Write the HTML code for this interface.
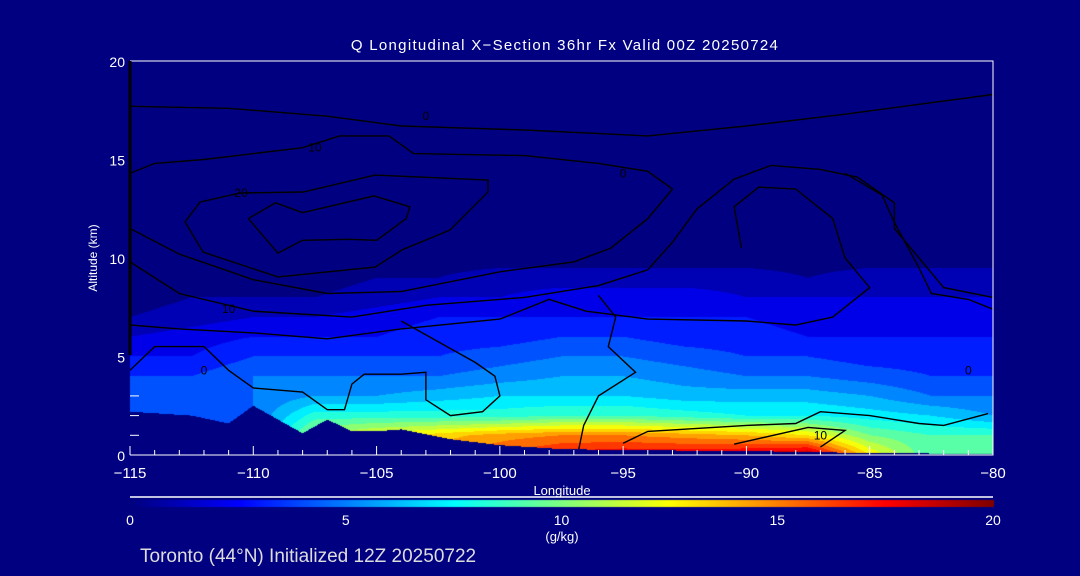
<!DOCTYPE html>
<html><head><meta charset="utf-8">
<style>
html,body{margin:0;padding:0;background:#000080;}
#wrap{position:relative;width:1080px;height:576px;background:#000080;overflow:hidden;font-family:"Liberation Sans",sans-serif;color:#fff;}
canvas{position:absolute;left:0;top:0;}
svg{position:absolute;left:0;top:0;}
</style></head>
<body>
<div id="wrap">
<canvas id="field" width="1080" height="576"></canvas>
<svg id="ov" width="1080" height="576"></svg>
</div>
<script>
// ---- data ----
const lons = [-115,-112.5,-110,-107.5,-105,-102.5,-100,-97.5,-95,-92.5,-90,-87.5,-85,-82.5,-80];
const alts = [0,1,2,3,4,5,6,7,8,9,10,11];
const q0  = [4.5,4.5,5,12.5,14,15,16,17.5,18,18,18.5,19.5,13,9,10];
const q1  = [4.5,4.5,5,11,12.5,13.5,14.5,15,15,14.5,14,13,10,9,9];
const q2  = [4.5,4.5,5,8.5,8.5,8.5,8.5,9,9,8.5,8,8,7.5,7,6];
const q3  = [4.5,4.5,5,6,6,6.5,7,7,7,6.5,6.5,6.5,6,5,5];
const q4  = [4,4,5,5,5,5,5.5,6,6,5.5,5,5,4.5,4,4];
const q5  = [3,3,4,4,4,4,4.5,5,5,4.5,4,4,3.5,3.5,3.5];
const q6  = [2,2.5,3,3,3,3.5,3.5,4,4,3.5,3.5,3,3,3,3];
const q7  = [1,1.5,2,2,2.5,3,3,3,3,3,3,2.5,2.5,2.5,2.5];
const q8  = [0.5,1,1,1,1.5,2,2,2.5,2.5,2.5,2,2,2,2,2];
const q9  = [0,0.5,0.5,0.5,1,1,1.5,1.5,1.5,1.5,1.5,1,1.5,1.5,1.5];
const q10 = [0,0,0,0,0,0.5,0.5,0.5,0.5,0.5,0.5,0.5,0.5,0.5,0.5];
const q11 = [0,0,0,0,0,0,0,0,0,0,0,0,0,0,0];
const terrainLon = [-115,-112.5,-111,-110,-108,-107,-106,-105,-104,-102,-100,-97.5,-95,-90,-85,-80];
const terrainAlt = [2.2,2.0,1.6,2.5,1.1,1.8,1.2,1.2,1.3,0.8,0.5,0.3,0.25,0.2,0.1,0.05];
const xTickLabels = [-115,-110,-105,-100,-95,-90,-85,-80];
const yTickLabels = [0,5,10,15,20];
const cbTickLabels = [0,5,10,15,20];
const contour1 = [[-110.2,12.0],[-109.1,12.8],[-108.0,12.3],[-105.1,13.15],[-103.65,12.6],[-103.8,12.0],[-105.0,10.9],[-106.1,10.95],[-108.0,10.9],[-109.0,10.25],[-110.2,12.0]];
const contour2 = [[-112.77,11.83],[-112.16,12.84],[-110.54,13.3],[-107.98,13.35],[-105.06,14.21],[-100.48,13.96],[-100.48,13.35],[-102.02,11.42],[-103.97,10.41],[-105.06,9.54],[-109.0,9.04],[-112.04,10.3],[-112.77,11.83]];
const contour3 = [[-115,14.3],[-114,14.8],[-112,15],[-108,15.6],[-106.5,16.2],[-104.5,16.2],[-103.5,15.3],[-99,15.2],[-96,14.8],[-94,14.4],[-93,13.5],[-94,12],[-95.5,10.5],[-97,9.8],[-100,9.3],[-104,8.3],[-107,8.2],[-110,8.9],[-113,10.2],[-115,11.5]];
const contour4 = [[-115,9.8],[-113,8.2],[-110,7.3],[-106,7.0],[-103,7.6],[-99,8.0],[-96,8.6],[-94,9.4],[-93,10.8],[-92,12.5],[-90.5,14],[-89,14.7],[-87,14.5],[-85.5,14.1],[-84,12.8],[-84,11.5],[-83,10],[-82,8.5],[-80,8.0]];
const contour5 = [[-115,17.7],[-111,17.6],[-107,17.2],[-104,16.7],[-99,16.5],[-94,16.2],[-90,16.7],[-86,17.3],[-83,17.8],[-80,18.3]];
const contour6 = [[-115,6.6],[-113,6.4],[-110,6.2],[-107,5.9],[-104,6.4],[-100,6.9],[-98,7.9],[-96.5,7.3],[-94,6.9],[-90,6.8],[-88,6.6],[-86.5,7.0],[-85,8.5],[-86,10],[-86.5,12],[-88,13.5],[-89.5,13.6],[-90.5,12.6],[-90.2,10.5]];
const contour7 = [[-115,4.3],[-114,5.5],[-112,5.5],[-111,4.3],[-110,3.4],[-108,3.2],[-107,2.3],[-106.3,2.3],[-106,3.6],[-105.5,4.1],[-104,4.1],[-103,4.2],[-103,2.8],[-102,2.0],[-100.7,2.2],[-100,3],[-100.2,4.0],[-101,4.7],[-102,5.4],[-104,6.8]];
const contour8 = [[-95,0.6],[-94,1.2],[-90,1.5],[-88,1.6],[-87,2.2],[-85,2.0],[-83,1.6],[-82,1.5],[-80.2,2.1]];
const contour9 = [[-90.5,0.55],[-87.5,1.4],[-86,1.25],[-87,0.4]];
const contour10 = [[-96,8.1],[-95.3,7.0],[-95.6,5.5],[-94.5,4.2],[-96,3.0],[-96.6,1.5],[-96.8,0.3]];
const contour11 = [[-80,7.4],[-81,7.9],[-82.5,8.2],[-83,9.5],[-84,11.8],[-84.5,13.2],[-86,14.3]];
const contours = [contour1,contour2,contour3,contour4,contour5,contour6,contour7,contour8,contour9,contour10,contour11];
const qRows = [q0,q1,q2,q3,q4,q5,q6,q7,q8,q9,q10,q11];

// ---- axes ----
const X0=130,X1=993,Y0=455,Y1=61;
const xs = lon => X0 + (lon+115)/35*(X1-X0);
const ys = a => Y0 - a/20*(Y0-Y1);
const lonOf = x => -115 + (x-X0)/(X1-X0)*35;
const altOf = y => (Y0-y)/(Y0-Y1)*20;
function jet(t){const c=v=>Math.max(0,Math.min(1,v));return [c(1.5-Math.abs(4*t-3))*255,c(1.5-Math.abs(4*t-2))*255,c(1.5-Math.abs(4*t-1))*255];}
function interp1(xa,ya,x){if(x<=xa[0])return ya[0];for(let i=1;i<xa.length;i++){if(x<=xa[i]){const f=(x-xa[i-1])/(xa[i]-xa[i-1]);return ya[i-1]+f*(ya[i]-ya[i-1]);}}return ya[ya.length-1];}
function field(lon,a){
  if(a>=alts[alts.length-1])return 0;
  let j=Math.floor(a); if(j<0)j=0; const fa=a-j;
  const v0=interp1(lons,qRows[j],lon), v1=interp1(lons,qRows[j+1],lon);
  return v0+(v1-v0)*fa;
}
const cv=document.getElementById('field'),ctx=cv.getContext('2d');
ctx.fillStyle='#000080';ctx.fillRect(0,0,1080,576);
const W=X1-X0,H=Y0-Y1;
const img=ctx.createImageData(W,H);
for(let py=0;py<H;py++){for(let px=0;px<W;px++){
  const lon=lonOf(X0+px+0.5),a=altOf(Y1+py+0.5);
  let col;
  if(a<interp1(terrainLon,terrainAlt,lon)){col=[0,0,128];}
  else{let v=Math.floor(field(lon,a));v=Math.max(0,Math.min(19,v));col=jet(v/19.5);}
  const k=(py*W+px)*4;img.data[k]=col[0];img.data[k+1]=col[1];img.data[k+2]=col[2];img.data[k+3]=255;
}}
ctx.putImageData(img,X0,Y1);
for(let px=0;px<=W;px++){const c=jet(px/W);ctx.fillStyle=`rgb(${c[0]|0},${c[1]|0},${c[2]|0})`;ctx.fillRect(X0+px,500,1,7);}

const NS='http://www.w3.org/2000/svg',svg=document.getElementById('ov');
function mk(tag,attrs,parent){const e=document.createElementNS(NS,tag);for(const k in attrs)e.setAttribute(k,attrs[k]);(parent||svg).appendChild(e);return e;}
function txt(s,x,y,size,anchor,fill){const t=mk('text',{x:x,y:y,'font-size':size,'text-anchor':anchor||'middle',fill:fill||'#fff','font-family':'Liberation Sans, sans-serif'});t.textContent=s;return t;}

contours.forEach((c,i)=>{
  const p=mk('polyline',{points:c.map(d=>xs(d[0]).toFixed(1)+','+ys(d[1]).toFixed(1)).join(' '),fill:'none',stroke:'#000',"stroke-width":1.4});
  
  
});
const fr=mk('path',{d:`M${X0},${Y0}H${X1}V${Y1}H${X0}`,fill:'none',stroke:'#fff','stroke-width':1});


const la=mk('line',{x1:X0,y1:Y1,x2:X0,y2:Y0-100,stroke:'#000','stroke-width':3});


for(let l=-115;l<=-80;l++){const big=(l%5===0);mk('line',{x1:xs(l),y1:Y0,x2:xs(l),y2:Y0-(big?9:5),stroke:'#fff','stroke-width':1});}
xTickLabels.forEach(v=>{const t=txt(String(v).replace('-','\u2212'),xs(v),478,15);
  
  });
yTickLabels.forEach(v=>{const t=txt(String(v),125,ys(v)+6,14,'end');
  
  });
for(let a=1;a<=3;a++){mk('line',{x1:X0,y1:ys(a),x2:X0+9,y2:ys(a),stroke:'#fff','stroke-width':1});}
cbTickLabels.forEach(v=>{const t=txt(String(v),X0+v/20*W,525,14);
  
  });
mk('line',{x1:X0,y1:497,x2:X1,y2:497,stroke:'#fff','stroke-width':1.5});
let t;
t=txt('Q Longitudinal X\u2212Section 36hr  Fx Valid 00Z 20250724',565,50,15);

t.setAttribute('letter-spacing','1.3');
t.setAttribute('xml:space','preserve');
t=txt('Longitude',562,495,13);

t=txt('(g/kg)',562,541,13);

t=txt('Altitude (km)',0,0,12);t.setAttribute('transform','translate(97,258) rotate(-90)');

t=txt('Toronto (44\u00B0N) Initialized 12Z 20250722',140,562,19,'start','#ddd');

[['10',-107.5,15.6],['20',-110.5,13.3],['10',-111,7.4],['0',-95,14.3],['0',-103,17.2],['0',-81,4.3],['10',-87,1.0],['0',-112,4.3]].forEach(d=>{
  const e=txt(d[0],xs(d[1]),ys(d[2])+4,12,'middle','#000');
  
  
});
</script>
</body></html>
